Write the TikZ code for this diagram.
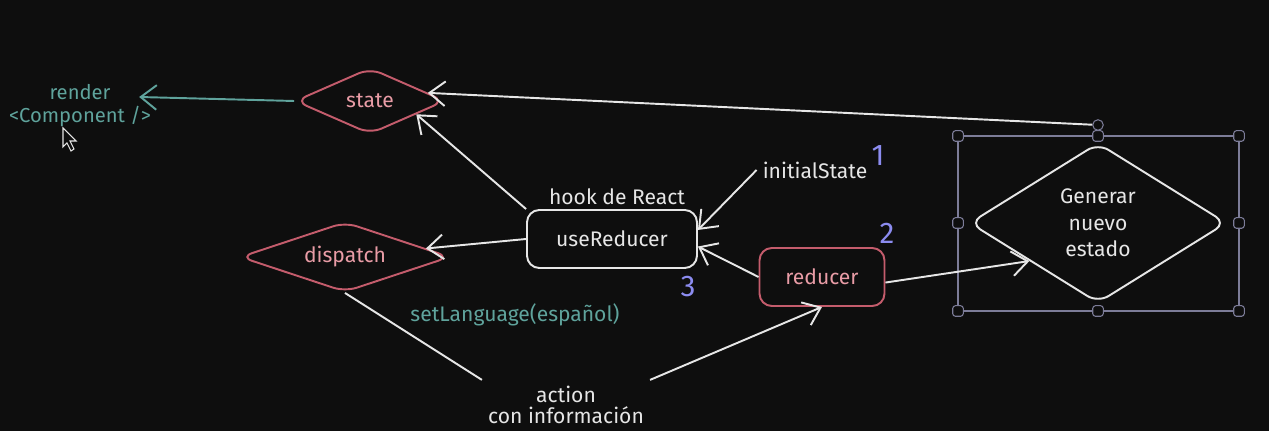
\documentclass[tikz,border=0pt]{standalone}
\usepackage{fontspec}
\setmainfont{Fira Sans}
\usetikzlibrary{calc}
\usetikzlibrary{arrows.meta}
\usetikzlibrary{shapes.geometric}
\definecolor{fondo}{HTML}{0E0E0E}
\definecolor{tealtxt}{HTML}{5FA39C}
\definecolor{rosa}{HTML}{C45C6C}
\definecolor{rosatxt}{HTML}{E99CA6}
\definecolor{lila}{HTML}{8C8CF0}
\definecolor{blanco}{HTML}{E6E6E6}
\definecolor{marco}{HTML}{7C7C98}

\begin{document}
\begin{tikzpicture}[x=0.02cm, y=-0.02cm,
    every node/.style={font=\fontsize{12}{15}\selectfont, text=blanco},
    flecha/.style={line width=1.1pt, blanco, -{Straight Barb[length=9pt, width=14pt]}},
    rombo/.style={diamond, draw, line width=1.1pt, rounded corners=7pt, inner sep=0pt, aspect=2},
    caja/.style={rectangle, draw, line width=1.1pt, rounded corners=7pt},
    numero/.style={text=lila, font=\fontsize{17}{20}\selectfont},
    asa/.style={rectangle, draw=marco, fill=fondo, line width=0.6pt, rounded corners=1.5pt, minimum size=6pt, inner sep=0pt}]
    \fill[fondo] (0,0) rectangle (1269,431);
    \useasboundingbox (0,0) rectangle (1269,431);

    \node[rombo, draw=rosa, minimum width=3cm, minimum height=1.32cm, text=rosatxt] (state) at (370,101) {state};
    \node[align=center, text=tealtxt, font=\fontsize{11.5}{13}\selectfont] (render) at (80,106) {render\\<Component />};
    \node[caja, draw=blanco, minimum width=3.4cm, minimum height=1.16cm] (usered) at (612,239) {useReducer};
    \node (hook) at (617,197) {hook de React};
    \node[rombo, draw=rosa, minimum width=4.2cm, minimum height=1.4cm, text=rosatxt] (dispatch) at (345,257) {dispatch};
    \node[caja, draw=rosa, minimum width=2.5cm, minimum height=1.16cm, text=rosatxt] (reducer) at (822,277) {reducer};
    \node (init) at (815,170) {initialState};
    \node[numero] (uno) at (878,156) {1};
    \node[numero] (dos) at (887,233) {2};
    \node[numero] (tres) at (688,287) {3};
    \node[text=tealtxt] (setlang) at (515,315) {setLanguage(español)};
    \node[align=center, font=\fontsize{12}{12}\selectfont] (action) at (566,405) {action\\con información};
    \node[rombo, draw=blanco, minimum width=5.14cm, minimum height=3.2cm, align=center] (nuevo) at (1098,223) {Generar\\nuevo\\estado};

    \draw[marco, line width=0.6pt] (958,136) rectangle (1239,311);
    \foreach \x/\y in {958/136, 1098/136, 1239/136, 958/223, 1239/223, 958/311, 1098/311, 1239/311}
        \node[asa] at (\x,\y) {};
    \node[asa, circle] (rot) at (1098,125) {};

    \draw[fill=fondo, draw=blanco, line width=0.6pt] (63,128) -- (63,147) -- (67,143) -- (71,151) -- (74,149) -- (70,141) -- (76,141) -- cycle;

    \draw[flecha, tealtxt] (state.west) -- ($(render.east)+(-18,-9)$);
    \draw[flecha] (rot) -- (state.8);
    \draw[flecha] (usered.north west) -- (state.-16);
    \draw[flecha] (usered.west) -- (dispatch.6);
    \draw[line width=1.1pt, blanco] (dispatch.south) -- (action.north west);
    \draw[flecha] (action.north east) -- (reducer.south);
    \draw[flecha] (reducer.west) -- (usered.-5);
    \draw[flecha] (init.west) -- (usered.6);
    \draw[flecha] (reducer.-5) -- (nuevo.209);
\end{tikzpicture}
\end{document}
